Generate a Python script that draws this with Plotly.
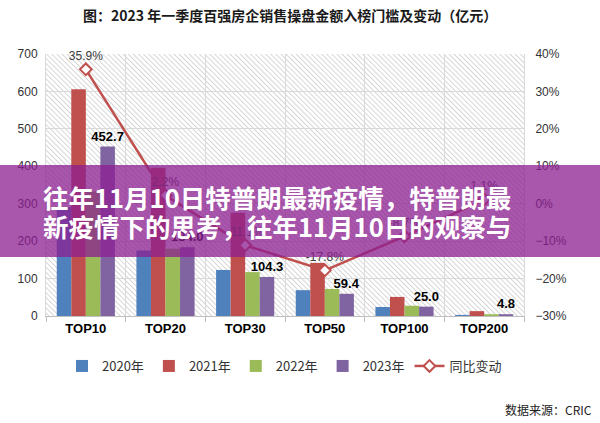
import base64
import plotly.graph_objects as go

# ---------------- data ----------------
categories = ["TOP10", "TOP20", "TOP30", "TOP50", "TOP100", "TOP200"]
sales_2020 = [291, 175, 123, 69, 24, 3]
sales_2021 = [606, 396, 276, 142, 51, 13]
sales_2022 = [333.1, 180.0, 117.3, 72.3, 27.4, 4.75]
sales_2023 = [452.7, 184.0, 104.3, 59.4, 25.0, 4.8]
yoy_change = [0.359, 0.022, -0.111, -0.178, -0.087, 0.011]

series_names = ["2020年", "2021年", "2022年", "2023年"]
line_name = "同比变动"
title_text = "图：2023 年一季度百强房企销售操盘金额入榜门槛及变动（亿元）"
overlay_line1 = "往年11月10日特普朗最新疫情，特普朗最"
overlay_line2 = "新疫情下的思考，往年11月10日的观察与"
source_text = "数据来源：CRIC"

colors = ["#4F81BD", "#C0504D", "#9BBB59", "#8064A2"]
line_color = "#C0504D"

# ---------------- geometry ----------------
FW, FH = 600, 423
L, R, T, B = 46, 76, 54, 107
PW, PH = FW - L - R, FH - T - B


def px(xp):
    return (xp - L) / PW


def py(yp):
    return (FH - B - yp) / PH


cjk = "Noto Sans CJK SC"
latin = "Liberation Sans, Arial, sans-serif"

fig = go.Figure()
for name, vals, col in zip(series_names, [sales_2020, sales_2021, sales_2022, sales_2023], colors):
    is_last = name == series_names[-1]
    fig.add_trace(go.Bar(
        x=categories, y=vals, name=name,
        marker=dict(color=col, line=dict(width=0)),
        text=vals if is_last else None,
        texttemplate="%{y:.1f}" if is_last else None,
        textposition="outside" if is_last else "none",
        constraintext="none",
        textfont=dict(family=latin, size=13, color="#000000", weight=700),
        cliponaxis=False,
        hoverinfo="skip",
    ))

fig.add_trace(go.Scatter(
    x=categories, y=yoy_change, name=line_name, yaxis="y2",
    mode="lines+markers+text",
    line=dict(color=line_color, width=2.5),
    marker=dict(symbol="diamond", size=9, color="white", line=dict(color=line_color, width=2)),
    text=[f"{v*100:.1f}%" for v in yoy_change],
    textposition="top center",
    textfont=dict(family=latin, size=12, color="#404040"),
    cliponaxis=False,
    hoverinfo="skip",
))

# hatch background for the plot area
svg = (
    f'<svg xmlns="http://www.w3.org/2000/svg" width="{PW}" height="{PH}" viewBox="0 0 {PW} {PH}">'
    '<defs><pattern id="h" width="3.6" height="3.6" patternUnits="userSpaceOnUse" '
    'patternTransform="rotate(-45)"><line x1="0.5" y1="0" x2="0.5" y2="3.6" '
    'stroke="#d2d2d2" stroke-width="0.9"/></pattern></defs>'
    '<rect width="100%" height="100%" fill="#ffffff"/>'
    '<rect width="100%" height="100%" fill="url(#h)"/></svg>'
)
img_src = "data:image/svg+xml;base64," + base64.b64encode(svg.encode()).decode()

fig.update_layout(
    width=FW, height=FH,
    margin=dict(l=L, r=R, t=T, b=B, pad=0),
    paper_bgcolor="white",
    plot_bgcolor="white",
    barmode="group",
    bargap=0.27,
    bargroupgap=0,
    showlegend=True,
    legend=dict(
        orientation="h", x=px(62), y=py(366), xanchor="left", yanchor="middle",
        font=dict(family=cjk, size=13, color="#333333"),
        itemwidth=30, tracegroupgap=0, bgcolor="rgba(0,0,0,0)",
    ),
    xaxis=dict(
        type="category", tickson="boundaries",
        showgrid=True, gridcolor="#D9D9D9", gridwidth=1,
        showline=True, linecolor="#BFBFBF", linewidth=1, mirror=False,
        ticks="outside", ticklen=5, tickcolor="#BFBFBF",
        tickfont=dict(family="Liberation Sans Narrow, Arial Narrow, sans-serif", size=13,
                      color="#000000", weight=700),
        fixedrange=True,
    ),
    yaxis=dict(
        range=[0, 700], dtick=100, tick0=0,
        showgrid=True, gridcolor="#D9D9D9", gridwidth=1,
        zeroline=False, showline=True, linecolor="#D9D9D9", mirror=False,
        ticks="", ticklabelstandoff=5,
        tickfont=dict(family=latin, size=12, color="#333333"),
    ),
    yaxis2=dict(
        range=[-0.3, 0.4], dtick=0.1, tick0=0, tickformat=".0%",
        overlaying="y", side="right", showgrid=False, zeroline=False,
        showline=True, linecolor="#D9D9D9",
        ticks="", ticklabelstandoff=8,
        tickfont=dict(family=latin, size=12, color="#333333"),
    ),
    images=[dict(
        source=img_src, xref="paper", yref="paper", x=0, y=1, sizex=1, sizey=1,
        xanchor="left", yanchor="top", sizing="stretch", layer="below",
    )],
    shapes=[dict(
        type="rect", xref="paper", yref="paper",
        x0=px(0), x1=px(FW), y0=py(257), y1=py(165),
        fillcolor="rgba(140,30,145,0.75)", line=dict(width=0), layer="above",
    )],
    annotations=[
        dict(text=title_text, xref="paper", yref="paper", x=px(290), y=py(15),
             xanchor="center", yanchor="middle", showarrow=False,
             font=dict(family=cjk, size=14, color="#1a1a1a", weight=700)),
        dict(text=overlay_line1, xref="paper", yref="paper", x=px(41), y=py(196),
             xanchor="left", yanchor="middle", showarrow=False,
             font=dict(family=cjk, size=25.5, color="#ffffff", weight=700)),
        dict(text=overlay_line2, xref="paper", yref="paper", x=px(41), y=py(225),
             xanchor="left", yanchor="middle", showarrow=False,
             font=dict(family=cjk, size=25.5, color="#ffffff", weight=700)),
        dict(text=source_text, xref="paper", yref="paper", x=px(594), y=py(409),
             xanchor="right", yanchor="middle", showarrow=False,
             font=dict(family=cjk, size=12, color="#222222")),
    ],
)

fig.write_html(
    "out.html",
    config={"displayModeBar": False, "staticPlot": True},
    post_script="document.body.style.margin='0';document.body.style.overflow='hidden';",
)
